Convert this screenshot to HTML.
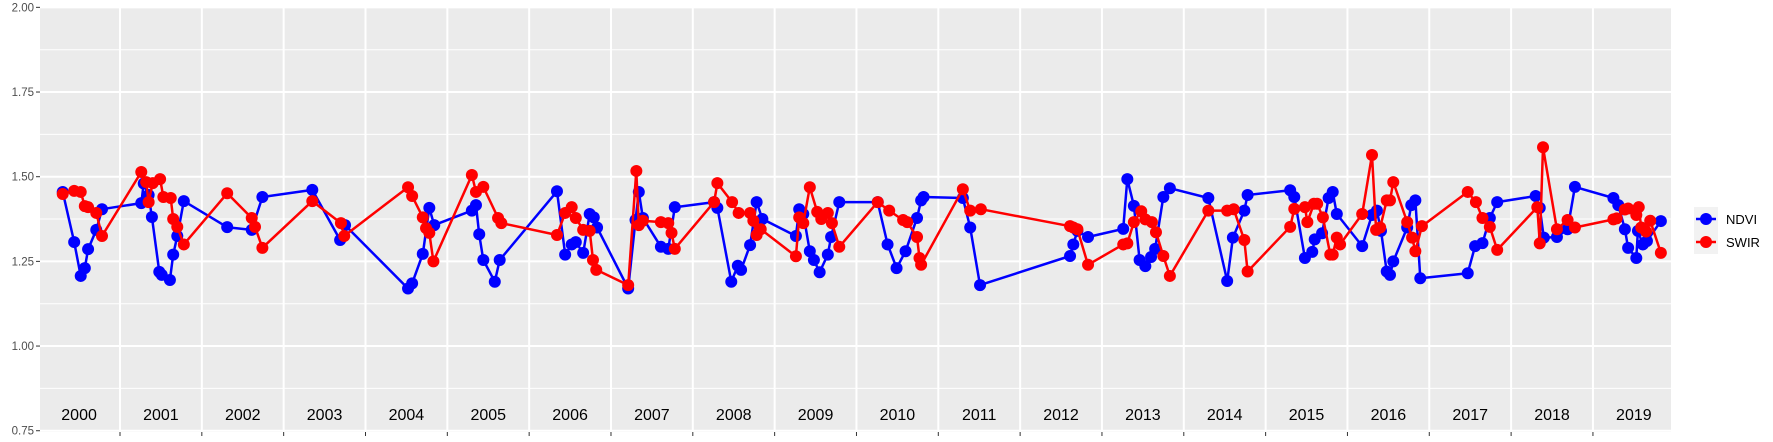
<!DOCTYPE html>
<html><head><meta charset="utf-8"><style>
html,body{margin:0;padding:0;background:#fff;}
svg{display:block;font-family:"Liberation Sans",sans-serif;}
</style></head><body>
<svg id="chart" width="1773" height="442" viewBox="0 0 1773 442">
<rect x="40" y="7" width="1631" height="425" fill="#ebebeb"/>
<g id="grid"></g><g id="axes"></g><g id="series"></g>
<g>
<rect x="1694" y="207" width="24" height="47" fill="#f2f2f2"/>
<g>
<line x1="1696" y1="219" x2="1716" y2="219" stroke="#0000ff" stroke-width="2.5"/>
<circle cx="1706" cy="219" r="6" fill="#0000ff"/>
<text x="1726" y="224" font-size="13" fill="#000">NDVI</text></g>
<g>
<line x1="1696" y1="242" x2="1716" y2="242" stroke="#ff0000" stroke-width="2.5"/>
<circle cx="1706" cy="242" r="6" fill="#ff0000"/>
<text x="1726" y="247" font-size="13" fill="#000">SWIR</text></g>
</g>
</svg>
<script>
const yTicks = [0.75, 1.00, 1.25, 1.50, 1.75, 2.00];
const yTickLabels = ["0.75", "1.00", "1.25", "1.50", "1.75", "2.00"];
const years = [2000,2001,2002,2003,2004,2005,2006,2007,2008,2009,2010,2011,2012,2013,2014,2015,2016,2017,2018,2019];
const ndviT = [2000.30,2000.44,2000.52,2000.57,2000.61,2000.71,2000.78,2001.26,2001.29,2001.35,2001.39,2001.48,2001.51,2001.61,2001.65,2001.70,2001.78,2002.31,2002.61,2002.74,2003.35,2003.69,2003.75,2004.52,2004.57,2004.70,2004.78,2004.84,2005.30,2005.35,2005.39,2005.44,2005.58,2005.64,2006.34,2006.44,2006.52,2006.57,2006.66,2006.74,2006.79,2006.83,2007.21,2007.30,2007.34,2007.39,2007.61,2007.70,2007.78,2008.26,2008.30,2008.47,2008.55,2008.59,2008.70,2008.78,2008.85,2009.26,2009.30,2009.35,2009.43,2009.48,2009.55,2009.65,2009.69,2009.79,2010.26,2010.38,2010.49,2010.60,2010.74,2010.79,2010.82,2011.30,2011.39,2011.51,2012.61,2012.65,2012.70,2012.83,2013.26,2013.31,2013.39,2013.46,2013.53,2013.60,2013.65,2013.75,2013.83,2014.30,2014.53,2014.60,2014.74,2014.78,2015.30,2015.35,2015.48,2015.57,2015.60,2015.69,2015.77,2015.82,2015.87,2016.18,2016.30,2016.36,2016.41,2016.48,2016.52,2016.56,2016.73,2016.78,2016.83,2016.89,2017.47,2017.56,2017.65,2017.74,2017.83,2018.30,2018.35,2018.40,2018.56,2018.69,2018.78,2019.25,2019.31,2019.39,2019.43,2019.53,2019.55,2019.61,2019.66,2019.83];
const ndviV = [1.455,1.307,1.207,1.23,1.286,1.343,1.404,1.422,1.48,1.446,1.381,1.219,1.21,1.195,1.27,1.325,1.428,1.351,1.343,1.44,1.461,1.313,1.357,1.17,1.185,1.272,1.408,1.357,1.40,1.416,1.33,1.254,1.19,1.254,1.457,1.27,1.30,1.307,1.275,1.39,1.38,1.35,1.17,1.372,1.455,1.378,1.293,1.287,1.41,1.425,1.408,1.19,1.237,1.225,1.298,1.425,1.375,1.325,1.404,1.39,1.28,1.254,1.218,1.27,1.322,1.425,1.425,1.30,1.23,1.28,1.378,1.43,1.44,1.437,1.35,1.18,1.266,1.30,1.34,1.322,1.346,1.493,1.414,1.254,1.236,1.263,1.287,1.44,1.466,1.437,1.192,1.32,1.40,1.446,1.46,1.44,1.26,1.278,1.315,1.333,1.437,1.455,1.39,1.295,1.387,1.40,1.34,1.22,1.21,1.25,1.35,1.416,1.43,1.20,1.215,1.295,1.304,1.378,1.425,1.443,1.408,1.32,1.322,1.345,1.47,1.437,1.416,1.345,1.29,1.26,1.34,1.30,1.31,1.369];
const swirT = [2000.30,2000.44,2000.52,2000.57,2000.61,2000.71,2000.78,2001.26,2001.32,2001.35,2001.40,2001.49,2001.53,2001.62,2001.65,2001.70,2001.78,2002.31,2002.61,2002.65,2002.74,2003.35,2003.70,2003.74,2004.52,2004.57,2004.70,2004.74,2004.78,2004.83,2005.30,2005.35,2005.44,2005.62,2005.66,2006.34,2006.44,2006.52,2006.57,2006.66,2006.74,2006.78,2006.82,2007.21,2007.31,2007.34,2007.39,2007.61,2007.70,2007.74,2007.78,2008.26,2008.30,2008.48,2008.56,2008.70,2008.74,2008.78,2008.83,2009.26,2009.30,2009.35,2009.43,2009.52,2009.57,2009.65,2009.70,2009.79,2010.26,2010.40,2010.57,2010.62,2010.74,2010.77,2010.79,2011.30,2011.39,2011.52,2012.61,2012.65,2012.70,2012.83,2013.26,2013.31,2013.39,2013.48,2013.53,2013.61,2013.66,2013.75,2013.83,2014.30,2014.53,2014.61,2014.74,2014.78,2015.30,2015.35,2015.48,2015.51,2015.59,2015.63,2015.70,2015.79,2015.82,2015.87,2015.91,2016.18,2016.30,2016.35,2016.40,2016.48,2016.52,2016.56,2016.73,2016.79,2016.83,2016.91,2017.47,2017.57,2017.65,2017.74,2017.83,2018.32,2018.35,2018.39,2018.56,2018.69,2018.78,2019.25,2019.29,2019.39,2019.43,2019.53,2019.56,2019.59,2019.65,2019.70,2019.83];
const swirV = [1.449,1.458,1.455,1.413,1.41,1.393,1.325,1.514,1.484,1.425,1.481,1.493,1.44,1.437,1.375,1.352,1.30,1.451,1.378,1.352,1.29,1.428,1.363,1.325,1.469,1.443,1.38,1.348,1.334,1.25,1.505,1.455,1.47,1.378,1.363,1.328,1.393,1.41,1.378,1.343,1.34,1.254,1.225,1.18,1.517,1.357,1.37,1.366,1.363,1.334,1.287,1.425,1.481,1.425,1.393,1.393,1.37,1.328,1.345,1.265,1.38,1.363,1.469,1.396,1.375,1.393,1.363,1.293,1.425,1.40,1.372,1.366,1.322,1.26,1.24,1.463,1.40,1.404,1.354,1.35,1.345,1.24,1.30,1.303,1.366,1.398,1.374,1.366,1.336,1.266,1.207,1.40,1.40,1.404,1.313,1.22,1.352,1.405,1.41,1.366,1.42,1.42,1.38,1.27,1.27,1.32,1.30,1.39,1.564,1.343,1.35,1.43,1.43,1.484,1.366,1.32,1.28,1.354,1.455,1.425,1.378,1.352,1.284,1.41,1.303,1.587,1.345,1.372,1.35,1.374,1.377,1.403,1.406,1.387,1.41,1.35,1.338,1.37,1.275];

const NS = "http://www.w3.org/2000/svg";
function xScale(t){ return 120 + (t - 2001) * 81.83; }
function yScale(v){ return 176.7 - (v - 1.5) * 338.7; }
function mk(tag, attrs, parent){ const e = document.createElementNS(NS, tag); for (const k in attrs) e.setAttribute(k, attrs[k]); parent.appendChild(e); return e; }

const grid = document.getElementById('grid');
const axes = document.getElementById('axes');
const series = document.getElementById('series');

for (let i = 0; i < yTicks.length - 1; i++) {
  const m = (yTicks[i] + yTicks[i+1]) / 2;
  const ln = mk('line', {x1:40, x2:1671, y1:yScale(m), y2:yScale(m), stroke:'#fff', 'stroke-width':1}, grid);
  
  
}
yTicks.forEach((v, i) => {
  const y = yScale(v);
  const ln = mk('line', {x1:40, x2:1671, y1:y, y2:y, stroke:'#fff', 'stroke-width':2}, grid);
  
  
  const tk = mk('line', {x1:36, x2:40, y1:y, y2:y, stroke:'#333', 'stroke-width':1}, axes);
  
  
  const tx = mk('text', {x:34, y:y + 4, 'font-size':11.5, fill:'#4d4d4d', 'text-anchor':'end'}, axes);
  tx.textContent = yTickLabels[i];
  
  
});
years.forEach((yr, i) => {
  if (i > 0) {
    const x = xScale(yr);
    const ln = mk('line', {x1:x, x2:x, y1:7, y2:432, stroke:'#fff', 'stroke-width':2}, grid);
    
    
    const tk = mk('line', {x1:x, x2:x, y1:432, y2:436, stroke:'#333', 'stroke-width':1}, axes);
    
    
  }
  const tx = mk('text', {x:xScale(yr + 0.5), y:420, 'font-size':16, fill:'#000', 'text-anchor':'middle'}, axes);
  tx.textContent = String(yr);
  
  
});

function drawSeries(ts, vs, color, name){
  const g = mk('g', {}, series);
  
  
  const pts = ts.map((t, i) => xScale(t).toFixed(1) + ',' + yScale(vs[i]).toFixed(1)).join(' ');
  const pl = mk('polyline', {points:pts, fill:'none', stroke:color, 'stroke-width':2.5, 'stroke-linejoin':'round'}, g);
  
  
  ts.forEach((t, i) => {
    const c = mk('circle', {cx:xScale(t), cy:yScale(vs[i]), r:6, fill:color}, g);
    
    
  });
}
drawSeries(ndviT, ndviV, '#0000ff', 'ndvi');
drawSeries(swirT, swirV, '#ff0000', 'swir');
</script>
</body></html>
